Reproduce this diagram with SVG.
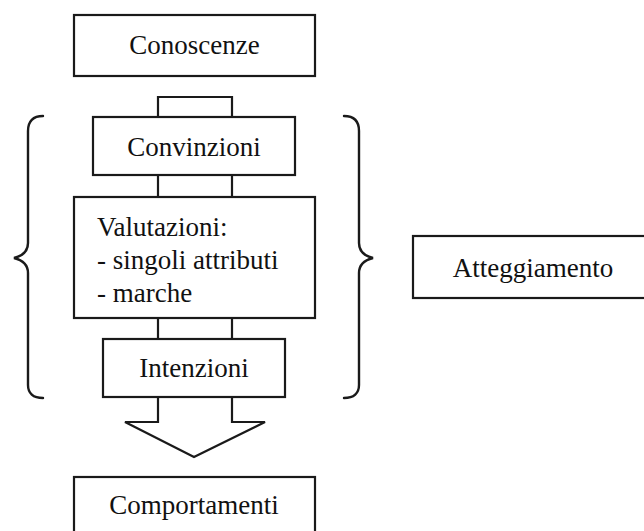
<svg xmlns="http://www.w3.org/2000/svg" width="644" height="531" viewBox="0 0 644 531">
<style>
.box{fill:#fff;stroke:#1a1a1a;stroke-width:2.2}
.ln{fill:none;stroke:#1a1a1a;stroke-width:2.2;stroke-linejoin:miter}
.br{fill:none;stroke:#1a1a1a;stroke-width:2.4;stroke-linecap:round}
text{font-family:"Liberation Serif","Times New Roman",serif;font-size:27px;fill:#111}
.c{text-anchor:middle}
</style>
<rect width="644" height="531" fill="#fff"/>
<g id="connectors">
<path class="ln" d="M158,117 V97 H232 V117"/>
<path class="ln" d="M158,175 V197 M232,175 V197"/>
<path class="ln" d="M158,318 V339 M232,318 V339"/>
<path class="ln" d="M158,397 V422 H125 L194,457 L265,422 H232 V397"/>
</g>
<g id="brace-left">
<path class="br" d="M43,116 C33,116 28,121 28,131 L28,243 C28,251 22,256 14,258 C22,260 28,265 28,273 L28,385 C28,393 33,398 43,398"/>
</g>
<g id="brace-right">
<path class="br" d="M344,116 C354,116 359,121 359,131 L359,243 C359,251 365,256 373,258 C365,260 359,265 359,273 L359,385 C359,393 354,398 344,398"/>
</g>
<g id="conoscenze">
<rect class="box" x="74" y="15" width="241" height="61"/>
<text class="c" x="194.5" y="54">Conoscenze</text>
</g>
<g id="convinzioni">
<rect class="box" x="93" y="117" width="202" height="58"/>
<text class="c" x="194" y="156">Convinzioni</text>
</g>
<g id="valutazioni">
<rect class="box" x="74" y="197" width="241" height="121"/>
<text x="97" y="236">Valutazioni:</text>
<text x="97" y="269">- singoli attributi</text>
<text x="97" y="302">- marche</text>
</g>
<g id="intenzioni">
<rect class="box" x="103" y="339" width="182" height="58"/>
<text class="c" x="194" y="377">Intenzioni</text>
</g>
<g id="comportamenti">
<rect class="box" x="74" y="477" width="241" height="80"/>
<text class="c" x="194" y="514">Comportamenti</text>
</g>
<g id="atteggiamento">
<rect class="box" x="413" y="236" width="260" height="62"/>
<text class="c" x="533" y="277">Atteggiamento</text>
</g>
</svg>
